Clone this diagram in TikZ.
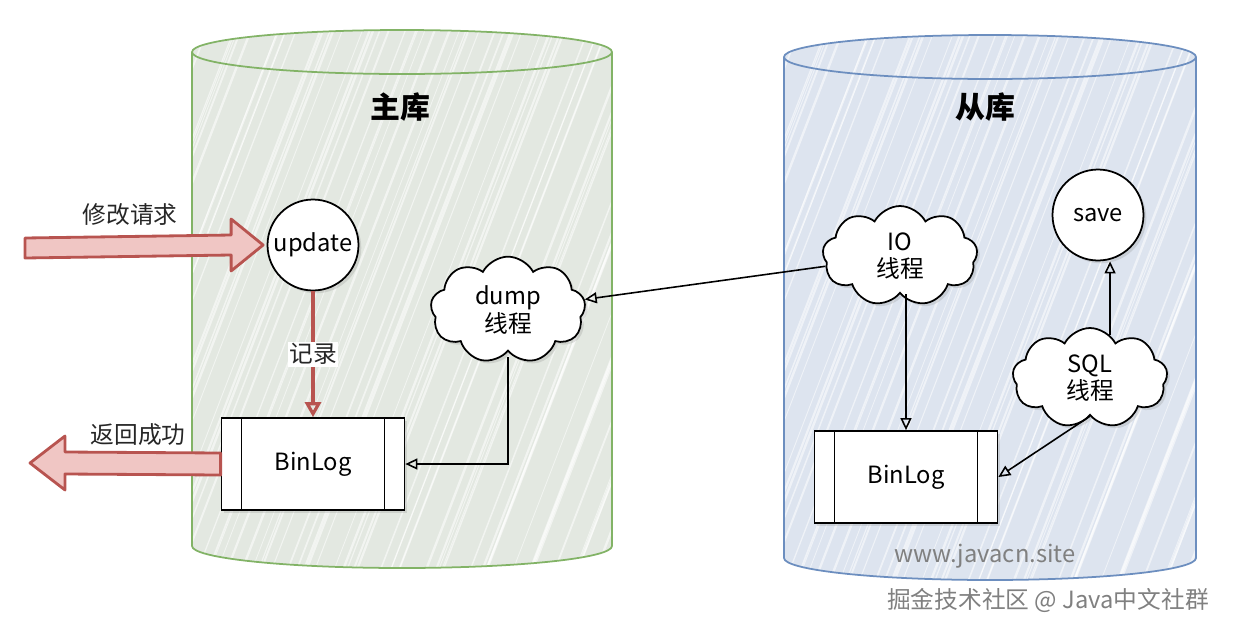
\documentclass[tikz,border=0pt]{standalone}
\usepackage{fontspec}
\setmainfont{Noto Sans CJK SC}
\usepackage{xcolor}
\usetikzlibrary{positioning,shapes.symbols,arrows.meta,calc,shadows}

\definecolor{mgreen}{HTML}{82B366}
\definecolor{mgreenfill}{HTML}{E3E8E1}
\definecolor{sblue}{HTML}{6C8EBF}
\definecolor{sbluefill}{HTML}{DDE4EF}
\definecolor{redln}{HTML}{B85450}
\definecolor{redfill}{HTML}{F0C6C4}

\begin{document}
\begin{tikzpicture}[
    x=0.02cm, y=-0.02cm,
    font=\fontsize{13.5pt}{15.5pt}\selectfont,
    ttl/.style  = {font=\fontsize{17pt}{20pt}\selectfont\bfseries},
    shd/.style  = {drop shadow={opacity=.22, shadow xshift=1.6pt, shadow yshift=-1.6pt}},
    circ/.style = {circle, draw=black, line width=1pt, fill=white, minimum size=1.82cm,
                   inner sep=0pt, shd},
    cld/.style  = {cloud, cloud puffs=9, cloud puff arc=125, draw=black, line width=1pt,
                   fill=white, minimum width=3.1cm, minimum height=2.0cm, align=center,
                   inner sep=0pt, shd},
    procbox/.style = {draw=black, line width=1pt, fill=white, minimum width=3.66cm,
                   minimum height=1.84cm, shd,
                   path picture={\draw[line width=0.8pt]
                     ([xshift=0.4cm]path picture bounding box.north west) --
                     ([xshift=0.4cm]path picture bounding box.south west)
                     ([xshift=-0.4cm]path picture bounding box.north east) --
                     ([xshift=-0.4cm]path picture bounding box.south east);}},
    ar/.style   = {-{Triangle[open, length=2.4mm, width=2.2mm]}, draw=black, line width=0.9pt},
    rar/.style  = {-{Triangle[open, length=3mm, width=3.2mm]}, draw=redln, line width=1.8pt},
    blk/.style  = {draw=redln, fill=redfill, line width=1.6pt, line join=round},
    lbl/.style  = {text=black!85},
    wm/.style   = {text=black!50},
]
\useasboundingbox (0,0) rectangle (1238,633);

%--- the two databases
\foreach \cx/\cy/\by/\rx/\fc/\lc in {402/52/546/210/mgreenfill/mgreen,
                                     990/57/558/206/sbluefill/sblue}{
  \fill[\fc] (\cx-\rx,\cy) -- (\cx-\rx,\by)
      arc[start angle=180, end angle=360, x radius=\rx*0.02cm, y radius=0.44cm]
      -- (\cx+\rx,\cy)
      arc[start angle=0, end angle=180, x radius=\rx*0.02cm, y radius=0.44cm] -- cycle;
  \begin{scope}
    \clip (\cx-\rx,\cy) -- (\cx-\rx,\by)
      arc[start angle=180, end angle=360, x radius=\rx*0.02cm, y radius=0.44cm]
      -- (\cx+\rx,\cy)
      arc[start angle=0, end angle=180, x radius=\rx*0.02cm, y radius=0.44cm] -- cycle;
    \foreach \i in {0,...,90}{
      \pgfmathsetmacro\dx{4*sin(\i*137)}
      \pgfmathsetmacro\dy{30+30*sin(\i*71)}
      \pgfmathsetmacro\lw{0.9+0.45*sin(\i*53)}
      \draw[white, line width=\lw pt, opacity=.55]
        (\cx-\rx-300+\i*9+\dx,600+\dy) -- ++(250,-650);
    }
  \end{scope}
  \draw[\lc, line width=1pt] (\cx-\rx,\cy) -- (\cx-\rx,\by)
      arc[start angle=180, end angle=360, x radius=\rx*0.02cm, y radius=0.44cm]
      -- (\cx+\rx,\cy)
      arc[start angle=0, end angle=180, x radius=\rx*0.02cm, y radius=0.44cm] -- cycle;
  \draw[\lc, line width=1pt] (\cx-\rx,\cy)
      arc[start angle=180, end angle=360, x radius=\rx*0.02cm, y radius=0.44cm];
}

\node[ttl] (mtitle) at (400,107) {主库};
\node[ttl] (stitle) at (985,107) {从库};

%--- master side
\node[circ] (upd) at (313,245) {update};
\node[procbox] (lbin) at (313,464) {BinLog};
\node[cld] (dump) at (508,310) {dump\\线程};

%--- slave side
\node[cld] (io) at (900,256) {IO\\线程};
\node[circ] (save) at (1098,215) {save};
\node[cld] (sql) at (1090,378) {SQL\\线程};
\node[procbox] (rbin) at (906,477) {BinLog};

%--- request / response
\node[lbl] (reqlbl) at (130,215) {修改请求};
\node[lbl] (retlbl) at (138,435) {返回成功};
\coordinate (reqtail) at (25,248);
\coordinate (reqtip) at ([xshift=-2pt]upd.west);
\coordinate (rettip) at (30,463);

\filldraw[blk] ($(reqtail)+(0,-10)$) -- ($(reqtip)+(-32,-10)$) -- ($(reqtip)+(-32,-26)$)
    -- (reqtip) -- ($(reqtip)+(-32,26)$) -- ($(reqtip)+(-32,10)$)
    -- ($(reqtail)+(0,10)$) -- cycle;
\filldraw[blk] ($(lbin.west)+(0,-11)$) -- ($(rettip)+(35,-11)$) -- ($(rettip)+(35,-27)$)
    -- (rettip) -- ($(rettip)+(35,27)$) -- ($(rettip)+(35,11)$)
    -- ($(lbin.west)+(0,11)$) -- cycle;

%--- edges
\draw[rar] (upd) -- node[lbl, fill=white, inner sep=1pt] (reclbl) {记录} (lbin);
\draw[ar] (io) -- (dump);
\draw[ar, shorten <=3pt] (dump.south) |- (lbin.east);
\draw[ar] (io.south -| rbin.north) -- (rbin.north);
\draw[ar] (sql.south) -- (rbin.east);
\draw[ar] (sql.65) -- (sql.65 |- save.south);

%--- watermarks
\node[wm] (site) at (985,556) {www.javacn.site};
\node[wm] (credit) at (1048,600) {掘金技术社区 @ Java中文社群};

\end{tikzpicture}
\end{document}
